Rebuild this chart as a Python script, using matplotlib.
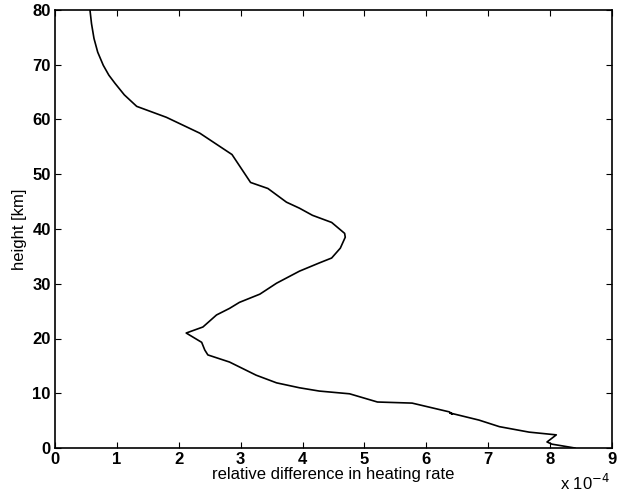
import matplotlib
matplotlib.use("Agg")
import matplotlib.pyplot as plt

plt.rcParams['font.family'] = ['Liberation Sans', 'DejaVu Sans']

heating_diff = [0.565, 0.59, 0.63, 0.69, 0.78, 0.87, 0.97, 1.12, 1.32, 1.8, 2.34, 2.86, 3.16, 3.44, 3.74,
                3.95, 4.16, 4.47, 4.68, 4.69, 4.61, 4.47, 4.27, 3.95, 3.58, 3.31, 2.98, 2.82, 2.61,
                2.39, 2.12, 2.37, 2.42, 2.47, 2.82, 3.25, 3.58, 3.95, 4.27, 4.76, 5.21, 5.77, 6.37,
                6.42, 6.38, 6.85, 7.18, 7.66, 8.1, 7.95, 8.03, 8.19, 8.4]
height_km = [80.0, 77.5, 74.8, 72.3, 69.9, 68.1, 66.6, 64.5, 62.4, 60.4, 57.5, 53.6, 48.5, 47.4, 44.9,
             43.8, 42.5, 41.2, 39.2, 38.5, 36.5, 34.7, 33.8, 32.3, 30.1, 28.1, 26.6, 25.5, 24.3,
             22.1, 21.0, 19.3, 17.9, 17.0, 15.7, 13.3, 11.9, 11.0, 10.4, 9.9, 8.4, 8.2, 6.6,
             6.2, 6.4, 5.1, 3.9, 2.9, 2.4, 1.1, 0.7, 0.4, 0.0]
xticks = [0, 1, 2, 3, 4, 5, 6, 7, 8, 9]
yticks = [0, 10, 20, 30, 40, 50, 60, 70, 80]

fig = plt.figure(figsize=(6.21, 4.97), dpi=100)
ax = fig.add_axes([55/621, 49/497, 557/621, 438/497])
ax.plot(heating_diff, height_km, color='black', linewidth=1.2)
ax.set_xlim(0, 9)
ax.set_ylim(0, 80)
ax.set_xticks(xticks)
ax.set_yticks(yticks)
ax.tick_params(direction='in', top=True, right=True, length=4, labelsize=12, pad=3)
for lab in ax.get_xticklabels() + ax.get_yticklabels():
    lab.set_fontweight('bold')
for s in ax.spines.values():
    s.set_linewidth(1.2)
ax.set_xlabel('relative difference in heating rate', fontsize=12, labelpad=0)
ax.set_ylabel('height [km]', fontsize=12, labelpad=4)
fig.text(610/621, 4/497, r'x 10$^{-4}$', ha='right', va='bottom', fontsize=12)
fig.savefig('out.png', dpi=100)
